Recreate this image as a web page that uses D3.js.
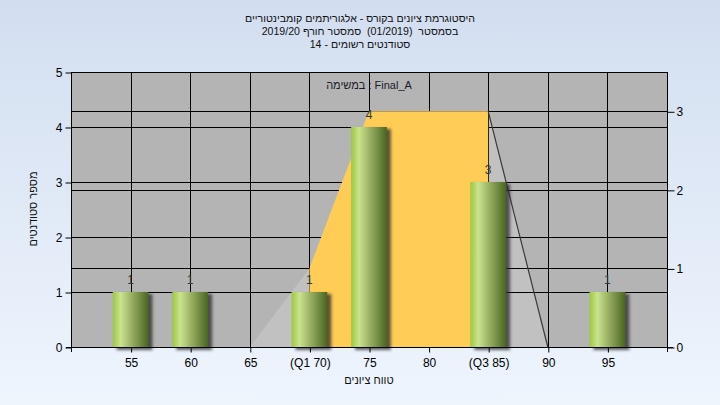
<!DOCTYPE html>
<html><head><meta charset="utf-8">
<script src="https://cdn.jsdelivr.net/npm/d3@7"></script>
<style>
body{margin:0;background:#fff;}
svg{display:block;}
text{font-family:"Liberation Sans",Arial,"DejaVu Sans",sans-serif;white-space:pre;}
</style>
</head><body>
<svg id="c" width="720" height="405"></svg>
<script>
// ---- data ----
const titleLines = [
  "היסטוגרמת ציונים בקורס - אלגוריתמים קומבינטוריים",
  "בסמסטר  (01/2019)  סמסטר חורף 2019/20",
  "סטודנטים רשומים - 14"
];
const legendText = "במשימה : Final_A";
const xTitle = "טווח ציונים";
const yTitle = "מספר סטודנטים";
const tickValues = [55,60,65,70,75,80,85,90,95];
const tickLabels = ["55","60","65","(Q1 70)","75","80","(Q3 85)","90","95"];
const barCategories = [55,60,70,75,85,95];
const barValues = [1,1,1,4,3,1];
const curveX = [65,70,75,80,85,90];
const curveValues = [0,1,3,3,3,0];
const quartiles = [70,85];
const leftTicks = [0,1,2,3,4,5];
const rightTicks = [0,1,2,3];

const svg = d3.select("#c");
const W = 720, H = 405;
const L = 71, R = 667, T = 72, B = 347;

const defs = svg.append("defs");
const bgG = defs.append("linearGradient").attr("id","bg").attr("x1",0).attr("y1",0).attr("x2",0).attr("y2",1);
bgG.append("stop").attr("offset","0%").attr("stop-color","#d2def0");
bgG.append("stop").attr("offset","100%").attr("stop-color","#eef5fd");
const barG = defs.append("linearGradient").attr("id","bar").attr("x1",0).attr("y1",0).attr("x2",1).attr("y2",0);
[["0%","#9cc83e"],["22%","#cae38e"],["55%","#95ac60"],["100%","#4a6522"]].forEach(s=>
  barG.append("stop").attr("offset",s[0]).attr("stop-color",s[1]));
const blur = defs.append("filter").attr("id","blur").attr("x","-50%").attr("y","-50%").attr("width","200%").attr("height","200%");
blur.append("feGaussianBlur").attr("stdDeviation",1.6);

svg.append("rect").attr("width",W).attr("height",H).attr("fill","url(#bg)");

const x = d3.scaleLinear().domain([50,100]).range([L,R]);
const y = d3.scaleLinear().domain([0,5]).range([B,T]);
const y2 = d3.scaleLinear().domain([0,3.5]).range([B,T]);

svg.append("rect").attr("x",L).attr("y",T).attr("width",R-L).attr("height",B-T).attr("fill","#b4b4b4");

const pts = curveX.map((v,i)=>[v,curveValues[i]]);
const area = d3.area().x(d=>x(d[0])).y0(y2(0)).y1(d=>y2(d[1]));
svg.append("path").attr("d",area(pts)).attr("fill","#c1c1c1");

const grid = svg.append("g").attr("stroke","#000").attr("stroke-width",1).attr("shape-rendering","crispEdges");
leftTicks.slice(1).forEach(t=>grid.append("line").attr("x1",L).attr("x2",R).attr("y1",Math.round(y(t))+0.5).attr("y2",Math.round(y(t))+0.5));
rightTicks.slice(1).forEach(t=>grid.append("line").attr("x1",L).attr("x2",R).attr("y1",Math.round(y2(t))+0.5).attr("y2",Math.round(y2(t))+0.5));
tickValues.forEach(t=>grid.append("line").attr("y1",T).attr("y2",B).attr("x1",Math.round(x(t))+0.5).attr("x2",Math.round(x(t))+0.5));

defs.append("clipPath").attr("id","qclip").append("rect")
  .attr("x",x(quartiles[0])).attr("y",T).attr("width",x(quartiles[1])-x(quartiles[0])).attr("height",B-T);
svg.append("path").attr("d",area(pts)).attr("fill","#ffcc55").attr("clip-path","url(#qclip)");

const lastPts = pts.slice(pts.length-2);
svg.append("path").attr("d",d3.line().x(d=>x(d[0])).y(d=>y2(d[1]))(lastPts))
  .attr("fill","none").attr("stroke","#3a3a3a").attr("stroke-width",1.2);

const halfW = 1.5;
const bars = svg.append("g");
barCategories.forEach((c,i)=>{
  const x0 = x(c-halfW), x1 = x(c+halfW), yt = y(barValues[i]);
  bars.append("rect").attr("x",x0+4).attr("y",yt+2).attr("width",x1-x0).attr("height",B-yt+1)
    .attr("fill","#2a2a2a").attr("opacity",0.75).attr("filter","url(#blur)");
});
barCategories.forEach((c,i)=>{
  const x0 = x(c-halfW), x1 = x(c+halfW), yt = y(barValues[i]);
  bars.append("rect").attr("x",x0).attr("y",yt).attr("width",x1-x0).attr("height",B-yt).attr("fill","url(#bar)");
});
barCategories.forEach((c,i)=>{
  bars.append("text").attr("x",x(c)).attr("y",y(barValues[i])-8).attr("text-anchor","middle")
    .attr("font-size",12).attr("fill","#2f3a40").text(barValues[i]);
});

const ax = svg.append("g").attr("stroke","#000").attr("shape-rendering","crispEdges");
ax.append("line").attr("x1",L+0.5).attr("x2",L+0.5).attr("y1",T).attr("y2",B+5);
ax.append("line").attr("x1",R+0.5).attr("x2",R+0.5).attr("y1",T).attr("y2",B+5);
ax.append("line").attr("x1",L-5).attr("x2",R+6).attr("y1",B+0.5).attr("y2",B+0.5);

const fmt = (g)=>{g.select(".domain").remove(); g.selectAll("text").attr("font-size",12).attr("fill","#000").attr("font-family","Liberation Sans, Arial, sans-serif"); g.selectAll("line").attr("stroke","#000");};
svg.append("g").attr("transform",`translate(${L+0.5},0.5)`)
  .call(d3.axisLeft(y).tickValues(leftTicks).tickSize(6).tickPadding(3).tickFormat(d3.format("d"))).call(fmt);
svg.append("g").attr("transform",`translate(${R+0.5},0.5)`)
  .call(d3.axisRight(y2).tickValues(rightTicks).tickSize(7).tickPadding(2).tickFormat(d3.format("d"))).call(fmt);
svg.append("g").attr("transform",`translate(0.5,${B+0.5})`)
  .call(d3.axisBottom(x).tickValues(tickValues).tickSize(5).tickPadding(6).tickFormat((d,i)=>tickLabels[i])).call(fmt);

titleLines.forEach((t,i)=>{
  svg.append("text").attr("x",360).attr("y",22+i*13).attr("text-anchor","middle")
    .attr("font-size",10.6).attr("fill","#111").text(t);
});
svg.append("text").attr("x",369).attr("y",89).attr("text-anchor","middle")
  .attr("font-size",11).attr("fill","#1a1a2a").text(legendText);
svg.append("text").attr("x",369).attr("y",384).attr("text-anchor","middle")
  .attr("font-size",11).attr("fill","#111").text(xTitle);
svg.append("text").attr("transform","translate(37,209) rotate(-90)").attr("text-anchor","middle")
  .attr("font-size",11).attr("fill","#111").text(yTitle);
</script>
</body></html>
